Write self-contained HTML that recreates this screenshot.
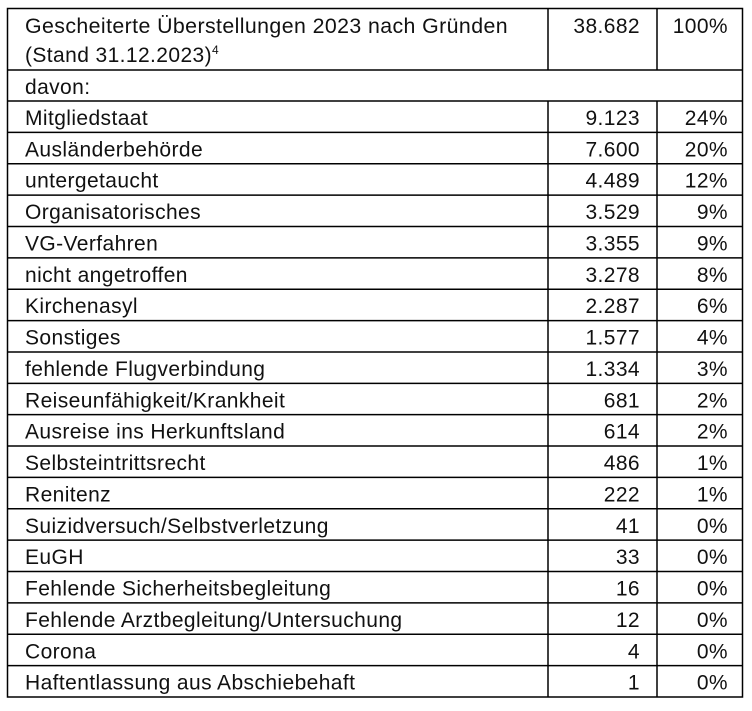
<!DOCTYPE html>
<html><head><meta charset="utf-8"><style>
html,body{margin:0;padding:0;background:#fff;}
svg text{font-family:"Liberation Sans",sans-serif;font-size:21px;letter-spacing:0.4px;fill:#111;}
</style></head><body>
<svg width="752" height="706" viewBox="0 0 752 706" xmlns="http://www.w3.org/2000/svg">
<g stroke="#000" stroke-width="1.5" fill="none">
<rect x="7.5" y="8.5" width="735" height="688.5"/>
<line x1="7" y1="70" x2="743" y2="70"/>
<line x1="7" y1="101" x2="743" y2="101"/>
<line x1="548" y1="8" x2="548" y2="70"/>
<line x1="657" y1="8" x2="657" y2="70"/>
<line x1="548" y1="101" x2="548" y2="697"/>
<line x1="657" y1="101" x2="657" y2="697"/>
<g id="rl"></g>
</g>
<text x="25" y="33" textLength="483" lengthAdjust="spacingAndGlyphs">Gescheiterte Überstellungen 2023 nach Gründen</text>
<text x="25" y="62">(Stand 31.12.2023)<tspan font-size="12" dy="-8">4</tspan></text>
<text x="640" y="33" text-anchor="end">38.682</text>
<text x="728" y="33" text-anchor="end">100%</text>
<text x="25" y="94">davon:</text>
<g id="rows"></g>
</svg>
<script>
var d=[["Mitgliedstaat","9.123","24%"],["Ausländerbehörde","7.600","20%"],["untergetaucht","4.489","12%"],["Organisatorisches","3.529","9%"],["VG-Verfahren","3.355","9%"],["nicht angetroffen","3.278","8%"],["Kirchenasyl","2.287","6%"],["Sonstiges","1.577","4%"],["fehlende Flugverbindung","1.334","3%"],["Reiseunfähigkeit/Krankheit","681","2%"],["Ausreise ins Herkunftsland","614","2%"],["Selbsteintrittsrecht","486","1%"],["Renitenz","222","1%"],["Suizidversuch/Selbstverletzung","41","0%"],["EuGH","33","0%"],["Fehlende Sicherheitsbegleitung","16","0%"],["Fehlende Arztbegleitung/Untersuchung","12","0%"],["Corona","4","0%"],["Haftentlassung aus Abschiebehaft","1","0%"]];
var ns="http://www.w3.org/2000/svg",g=document.getElementById("rows"),rl=document.getElementById("rl");
var h=596/19;
d.forEach(function(r,i){var top=101+i*h;
 if(i>0){var l=document.createElementNS(ns,"line");l.setAttribute("x1",7);l.setAttribute("x2",743);l.setAttribute("y1",top);l.setAttribute("y2",top);rl.appendChild(l);}
 [[25,"start",r[0]],[640,"end",r[1]],[728,"end",r[2]]].forEach(function(c){var t=document.createElementNS(ns,"text");t.setAttribute("x",c[0]);t.setAttribute("y",top+24);t.setAttribute("text-anchor",c[1]);t.textContent=c[2];g.appendChild(t);});
});
</script>
</body></html>
